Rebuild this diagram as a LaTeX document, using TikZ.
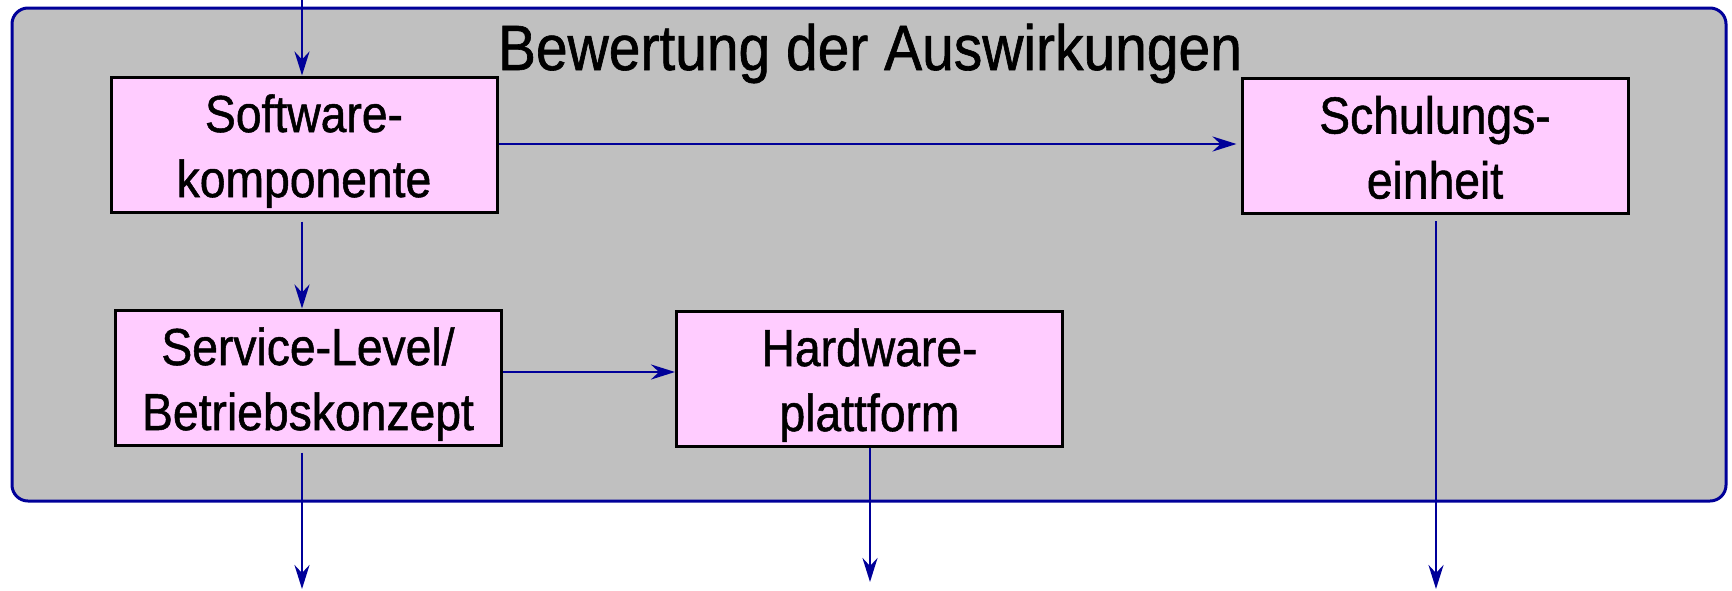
\documentclass[tikz,border=0pt]{standalone}
\usepackage{fontspec}
\setmainfont{Liberation Sans}[FakeStretch=0.89, FakeBold=1.0]
\usetikzlibrary{arrows.meta}
\definecolor{navy}{RGB}{0,0,153}
\definecolor{frameGray}{RGB}{192,192,192}
\definecolor{boxPink}{RGB}{255,204,255}
\begin{document}
\begin{tikzpicture}[x=1pt,y=-1pt,
  frame/.style={draw=navy, line width=3pt, fill=frameGray, rounded corners=16pt,
    minimum width=1714pt, minimum height=493pt, inner sep=0pt},
  pinkbox/.style={draw=black, line width=3pt, fill=boxPink, minimum width=386pt,
    minimum height=135pt, inner sep=0pt, align=center,
    font=\fontsize{52}{65}\selectfont, text height=116pt, text depth=11pt},
  titletext/.style={font=\fontsize{64}{70}\selectfont, anchor=base, inner sep=0pt},
  arr/.style={draw=navy, line width=2.8pt, -{Stealth[length=24pt,width=15pt,inset=8pt]}}]
\useasboundingbox (0,0) rectangle (1732,590);
\node[frame] (frame) at (869,254.5) {};
\node[titletext] (title) at (870,70) {Bewertung der Auswirkungen};
\node[pinkbox] (sw) at (304,144.5) {Software-\\komponente};
\node[pinkbox] (sch) at (1435,146) {Schulungs-\\einheit};
\node[pinkbox] (svc) at (308,377.5) {Service-Level/\\Betriebskonzept};
\node[pinkbox] (hw) at (869.5,378.5) {Hardware-\\plattform};
\coordinate (in) at (302,0);
\coordinate (out1) at (302,589);
\coordinate (out2) at (870,582);
\coordinate (out3) at (1436,589);
\draw[arr] (in) -- (in |- sw.north);
\draw[arr, shorten <=8pt] (sw.south -| in) -- (in |- svc.north);
\draw[arr] (sw.east |- 0,144) -- ([xshift=-4pt]sch.west |- 0,144);
\draw[arr] (svc.east |- 0,372) -- (hw.west |- 0,372);
\draw[arr, shorten <=6pt] (svc.south -| in) -- (out1);
\draw[arr] (hw.south -| out2) -- (out2);
\draw[arr, shorten <=6pt] (sch.south -| out3) -- (out3);
\end{tikzpicture}
\end{document}
